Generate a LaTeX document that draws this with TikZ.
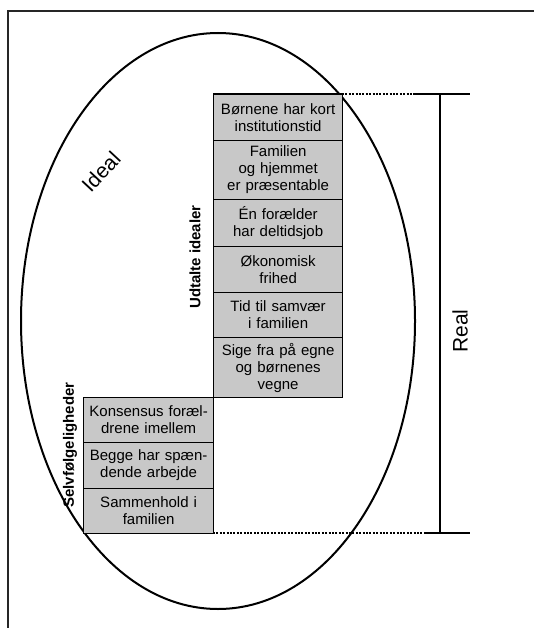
\documentclass[tikz,border=0pt]{standalone}
\usepackage{fontspec}
\setmainfont{Liberation Sans}
\usetikzlibrary{positioning}
\definecolor{boxgray}{RGB}{200,200,200}
\tikzset{
  boxnode/.style={draw=black, line width=1.2pt, fill=boxgray, anchor=north west,
    inner sep=0pt, align=center, text width=#1, minimum width=#1,
    font=\fontsize{15pt}{17pt}\selectfont},
  thickline/.style={line width=2.6pt, black},
  dotline/.style={line width=2.6pt, black, dash pattern=on 2pt off 1.4pt},
  sidelabel/.style={rotate=90, inner sep=0pt, font=\bfseries\fontsize{15pt}{15pt}\selectfont},
}
\begin{document}
\begin{tikzpicture}[x=1pt,y=-1pt]
\useasboundingbox (0,0) rectangle (534,628);
% frame
\draw[line width=1.6pt, black!85] (8,628) -- (8,11) -- (534,11);
% ellipse
\draw[line width=2pt] (218,321) ellipse [x radius=197, y radius=288];
% upper column
\node[boxnode=129pt, minimum height=46pt] (b1) at (213,94) {Børnene har kort\\institutionstid};
\node[boxnode=129pt, minimum height=59pt] (b2) at (213,140) {Familien\\og hjemmet\\er præsentable};
\node[boxnode=129pt, minimum height=47pt] (b3) at (213,199) {Én forælder\\har deltidsjob};
\node[boxnode=129pt, minimum height=46pt] (b4) at (213,246) {Økonomisk\\frihed};
\node[boxnode=129pt, minimum height=45pt] (b5) at (213,292) {Tid til samvær\\i familien};
\node[boxnode=129pt, minimum height=60pt] (b6) at (213,337) {Sige fra på egne\\og børnenes\\vegne};
% lower column
\node[boxnode=130pt, minimum height=45pt] (l1) at (83,397) {Konsensus foræl-\\drene imellem};
\node[boxnode=130pt, minimum height=46pt] (l2) at (83,442) {Begge har spæn-\\dende arbejde};
\node[boxnode=130pt, minimum height=45pt] (l3) at (83,488) {Sammenhold i\\familien};
% right measure lines
\coordinate (tA) at (213,94);
\coordinate (tB) at (342,94);
\coordinate (tC) at (415,94);
\coordinate (tD) at (470,94);
\coordinate (bA) at (213,533);
\coordinate (bC) at (425,533);
\coordinate (bD) at (470,533);
\coordinate (vT) at (440,94);
\coordinate (vB) at (440,533);
\draw[line width=1.6pt] (tA) -- (tB);
\draw[dotline] (tB) -- (tC);
\draw[thickline] (tC) -- (tD);
\draw[dotline] (bA) -- (bC);
\draw[thickline] (bC) -- (bD);
\draw[thickline] (vT) -- (vB);
% labels
\node[rotate=47, font=\fontsize{21pt}{21pt}\selectfont] (ideal) at (101,172) {Ideal};
\node[rotate=90, font=\fontsize{21pt}{21pt}\selectfont] (real) at (460,331) {Real};
\node[sidelabel] (udt) at (195,257) {Udtalte idealer};
\node[sidelabel] (selv) at (70,445) {Selvfølgeligheder};
\end{tikzpicture}
\end{document}
